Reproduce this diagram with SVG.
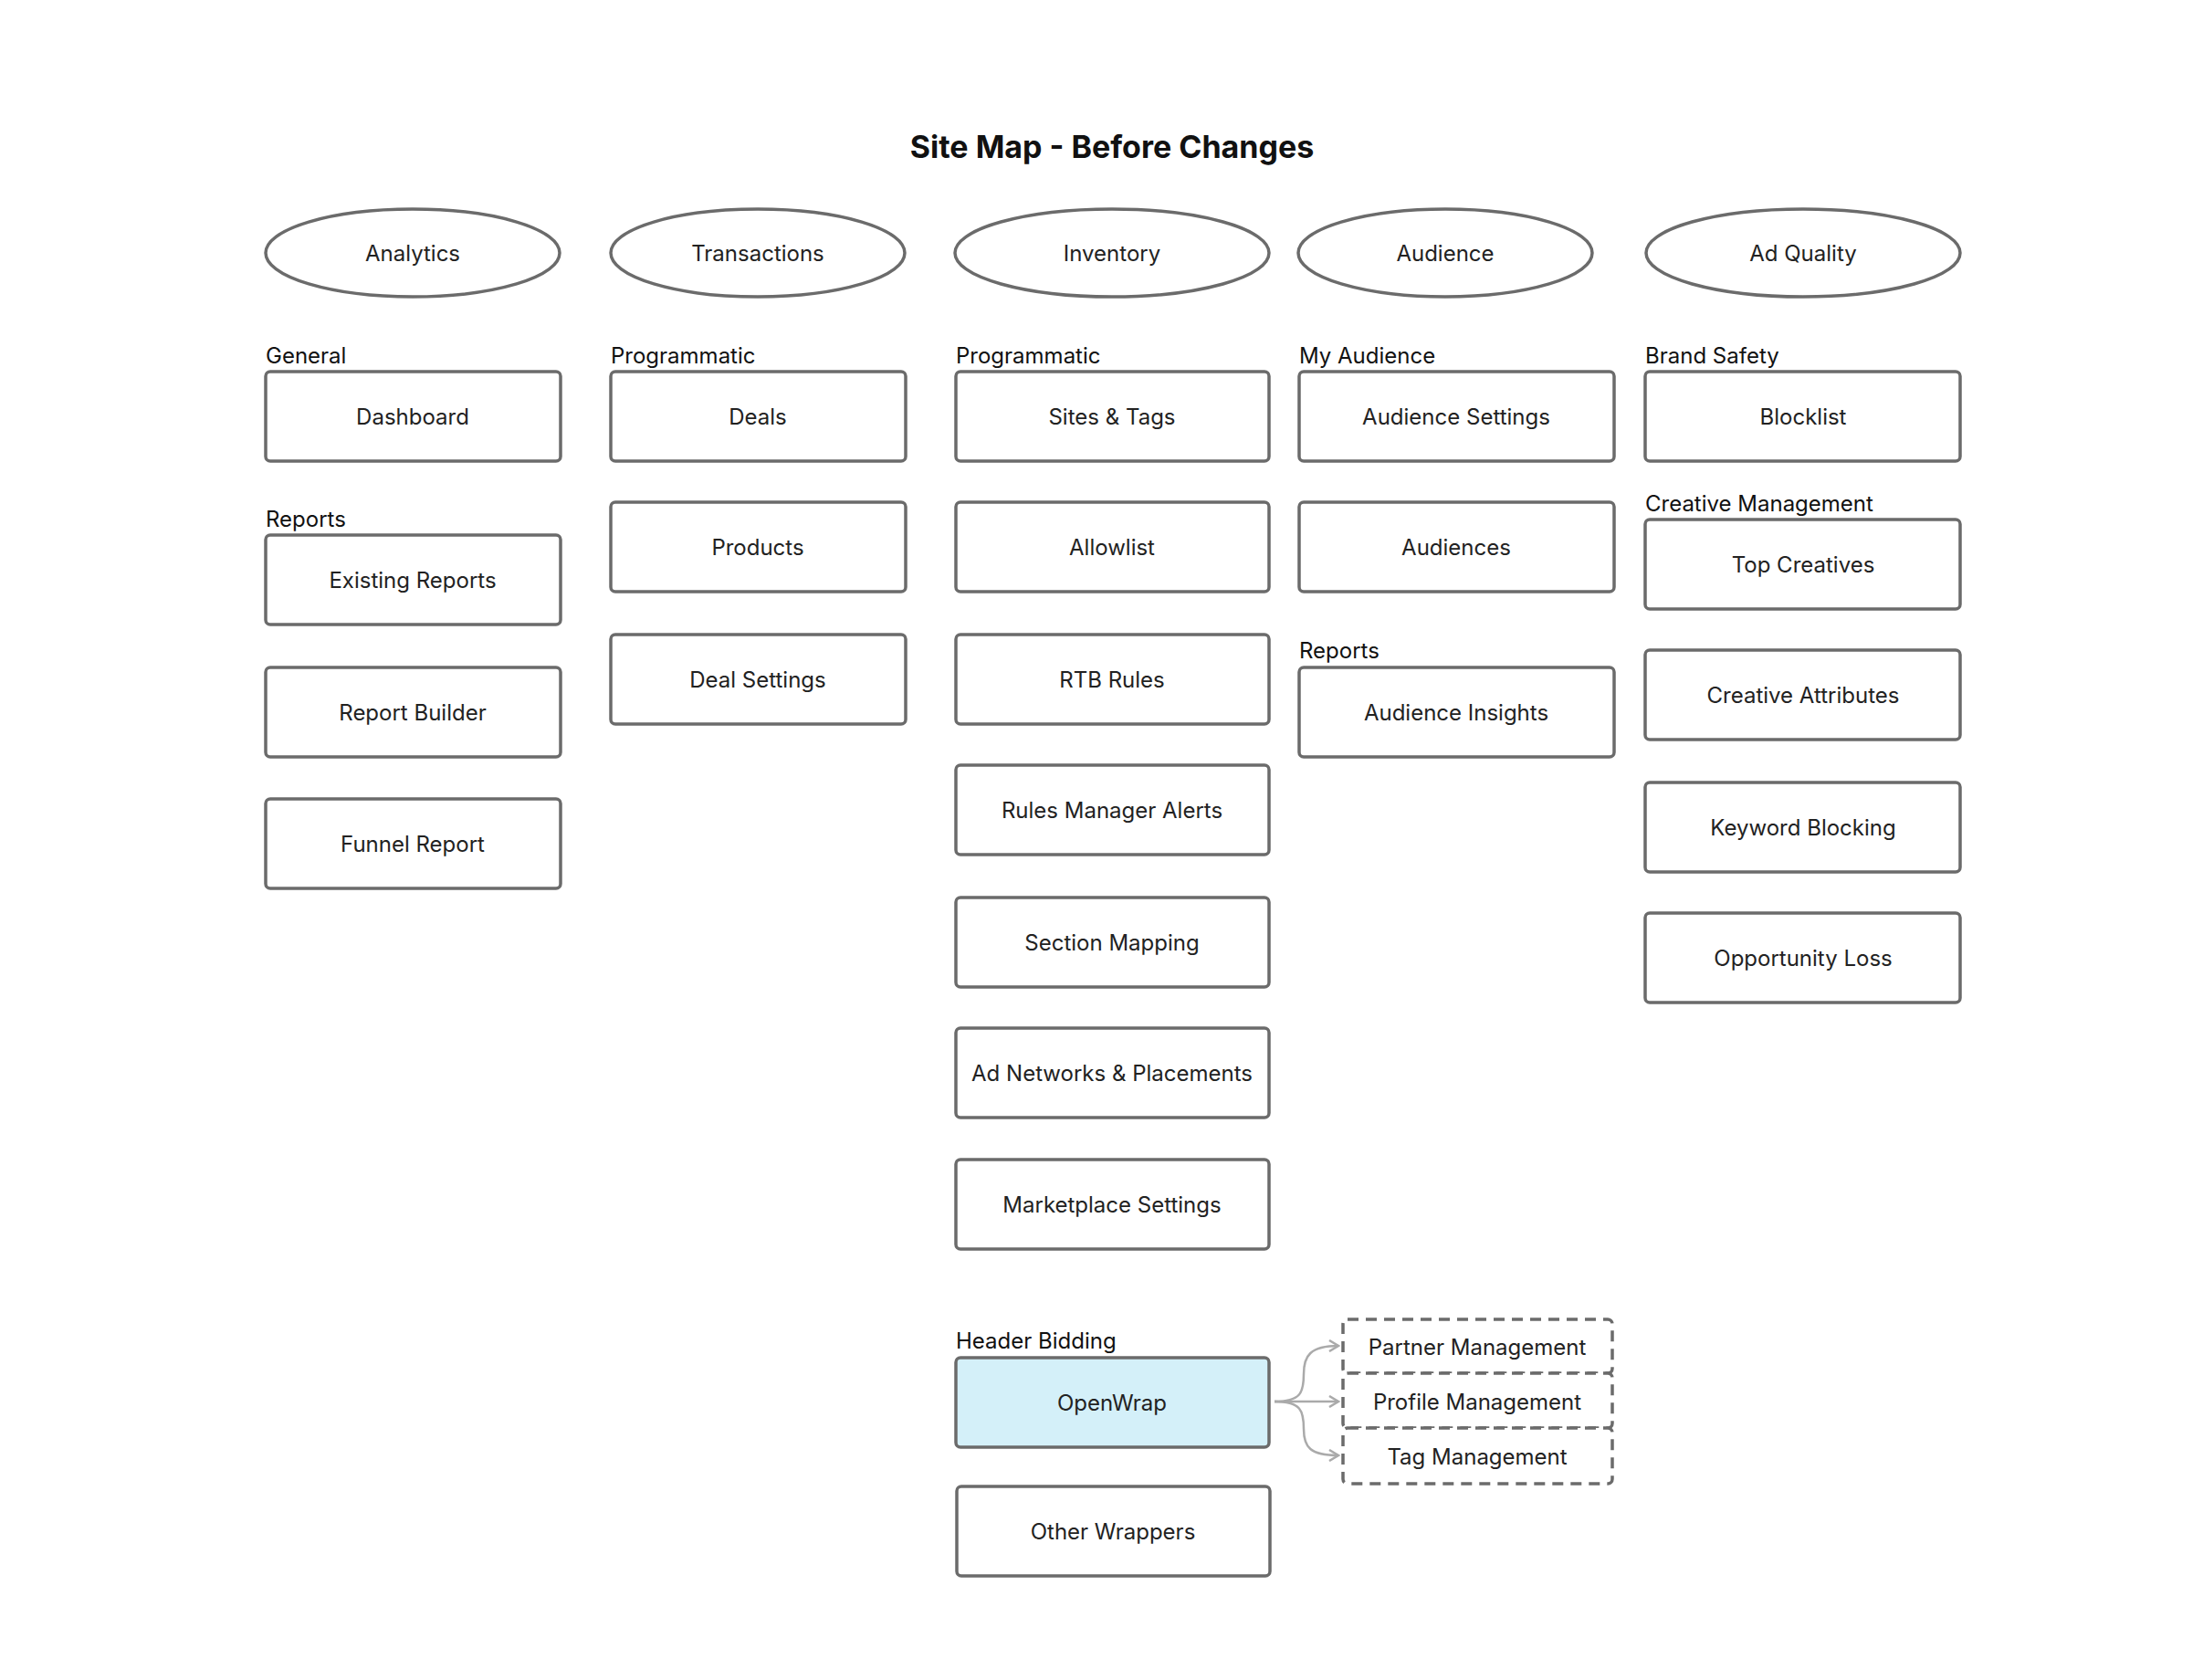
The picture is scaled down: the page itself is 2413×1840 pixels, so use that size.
<svg xmlns="http://www.w3.org/2000/svg" width="2413" height="1840" viewBox="0 0 2413 1840">
<style>
.b{fill:#fff;stroke:#6b6b6b;stroke-width:3.5}
.d{fill:#fff;stroke:#6b6b6b;stroke-width:3.5;stroke-dasharray:12 8}
.t{font-family:Inter,"Liberation Sans",sans-serif;font-size:24px;fill:#222;text-anchor:middle;dominant-baseline:central}
.l{font-family:Inter,"Liberation Sans",sans-serif;font-size:24px;fill:#111}
.c{fill:none;stroke:#aaa;stroke-width:2.5}
</style>
<defs><marker id="a" markerWidth="14" markerHeight="14" refX="12" refY="7" orient="auto" markerUnits="userSpaceOnUse"><path d="M2 1 L12 7 L2 13" fill="none" stroke="#aaa" stroke-width="2.5"/></marker></defs>
<rect width="2413" height="1840" fill="#fff"/>
<text x="1218" y="173" style="font-family:Inter,'Liberation Sans',sans-serif;font-size:34px;font-weight:700;fill:#111;text-anchor:middle">Site Map - Before Changes</text>
<g id="h-analytics"><ellipse class="b" cx="452" cy="277" rx="161" ry="48"/><text class="t" x="452" y="277">Analytics</text></g>
<g id="h-transactions"><ellipse class="b" cx="830" cy="277" rx="161" ry="48"/><text class="t" x="830" y="277">Transactions</text></g>
<g id="h-inventory"><ellipse class="b" cx="1218" cy="277" rx="172" ry="48"/><text class="t" x="1218" y="277">Inventory</text></g>
<g id="h-audience"><ellipse class="b" cx="1583" cy="277" rx="161" ry="48"/><text class="t" x="1583" y="277">Audience</text></g>
<g id="h-adquality"><ellipse class="b" cx="1975" cy="277" rx="172" ry="48"/><text class="t" x="1975" y="277">Ad Quality</text></g>
<g id="labels">
<text class="l" x="291" y="398">General</text>
<text class="l" x="291" y="577">Reports</text>
<text class="l" x="669" y="398">Programmatic</text>
<text class="l" x="1047" y="398">Programmatic</text>
<text class="l" x="1423" y="398">My Audience</text>
<text class="l" x="1423" y="721">Reports</text>
<text class="l" x="1802" y="398">Brand Safety</text>
<text class="l" x="1802" y="560">Creative Management</text>
<text class="l" x="1047" y="1477">Header Bidding</text>
</g>
<g id="dashboard"><rect class="b" x="291" y="407" width="323" height="98" rx="5"/><text class="t" x="452" y="456">Dashboard</text></g>
<g id="existing-reports"><rect class="b" x="291" y="586" width="323" height="98" rx="5"/><text class="t" x="452" y="635">Existing Reports</text></g>
<g id="report-builder"><rect class="b" x="291" y="731" width="323" height="98" rx="5"/><text class="t" x="452" y="780">Report Builder</text></g>
<g id="funnel-report"><rect class="b" x="291" y="875" width="323" height="98" rx="5"/><text class="t" x="452" y="924">Funnel Report</text></g>
<g id="deals"><rect class="b" x="669" y="407" width="323" height="98" rx="5"/><text class="t" x="830" y="456">Deals</text></g>
<g id="products"><rect class="b" x="669" y="550" width="323" height="98" rx="5"/><text class="t" x="830" y="599">Products</text></g>
<g id="deal-settings"><rect class="b" x="669" y="695" width="323" height="98" rx="5"/><text class="t" x="830" y="744">Deal Settings</text></g>
<g id="sites-tags"><rect class="b" x="1047" y="407" width="343" height="98" rx="5"/><text class="t" x="1218" y="456">Sites &amp; Tags</text></g>
<g id="allowlist"><rect class="b" x="1047" y="550" width="343" height="98" rx="5"/><text class="t" x="1218" y="599">Allowlist</text></g>
<g id="rtb-rules"><rect class="b" x="1047" y="695" width="343" height="98" rx="5"/><text class="t" x="1218" y="744">RTB Rules</text></g>
<g id="rules-manager-alerts"><rect class="b" x="1047" y="838" width="343" height="98" rx="5"/><text class="t" x="1218" y="887">Rules Manager Alerts</text></g>
<g id="section-mapping"><rect class="b" x="1047" y="983" width="343" height="98" rx="5"/><text class="t" x="1218" y="1032">Section Mapping</text></g>
<g id="ad-networks"><rect class="b" x="1047" y="1126" width="343" height="98" rx="5"/><text class="t" x="1218" y="1175">Ad Networks &amp; Placements</text></g>
<g id="marketplace-settings"><rect class="b" x="1047" y="1270" width="343" height="98" rx="5"/><text class="t" x="1218" y="1319">Marketplace Settings</text></g>
<g id="openwrap"><rect class="b" x="1047" y="1487" width="343" height="98" rx="5" style="fill:#d4f0f9"/><text class="t" x="1218" y="1536">OpenWrap</text></g>
<g id="other-wrappers"><rect class="b" x="1048" y="1628" width="343" height="98" rx="5"/><text class="t" x="1219" y="1677">Other Wrappers</text></g>
<g id="audience-settings"><rect class="b" x="1423" y="407" width="345" height="98" rx="5"/><text class="t" x="1595" y="456">Audience Settings</text></g>
<g id="audiences"><rect class="b" x="1423" y="550" width="345" height="98" rx="5"/><text class="t" x="1595" y="599">Audiences</text></g>
<g id="audience-insights"><rect class="b" x="1423" y="731" width="345" height="98" rx="5"/><text class="t" x="1595" y="780">Audience Insights</text></g>
<g id="blocklist"><rect class="b" x="1802" y="407" width="345" height="98" rx="5"/><text class="t" x="1975" y="456">Blocklist</text></g>
<g id="top-creatives"><rect class="b" x="1802" y="569" width="345" height="98" rx="5"/><text class="t" x="1975" y="618">Top Creatives</text></g>
<g id="creative-attributes"><rect class="b" x="1802" y="712" width="345" height="98" rx="5"/><text class="t" x="1975" y="761">Creative Attributes</text></g>
<g id="keyword-blocking"><rect class="b" x="1802" y="857" width="345" height="98" rx="5"/><text class="t" x="1975" y="906">Keyword Blocking</text></g>
<g id="opportunity-loss"><rect class="b" x="1802" y="1000" width="345" height="98" rx="5"/><text class="t" x="1975" y="1049">Opportunity Loss</text></g>
<g id="partner-management"><rect class="d" x="1471" y="1445" width="295" height="59" rx="5"/><text class="t" x="1618" y="1475">Partner Management</text></g>
<g id="profile-management"><rect class="d" x="1471" y="1504" width="295" height="60" rx="5"/><text class="t" x="1618" y="1535">Profile Management</text></g>
<g id="tag-management"><rect class="d" x="1471" y="1564" width="295" height="61" rx="5"/><text class="t" x="1618" y="1595">Tag Management</text></g>
<g id="connectors">
<path class="c" d="M1396 1535 H1466" marker-end="url(#a)"/>
<path class="c" d="M1396 1535 C1425 1535 1428 1525 1428 1505 C1428 1485 1435 1474 1466 1474" marker-end="url(#a)"/>
<path class="c" d="M1396 1535 C1425 1535 1428 1545 1428 1565 C1428 1585 1435 1594 1466 1594" marker-end="url(#a)"/>
</g>
</svg>
